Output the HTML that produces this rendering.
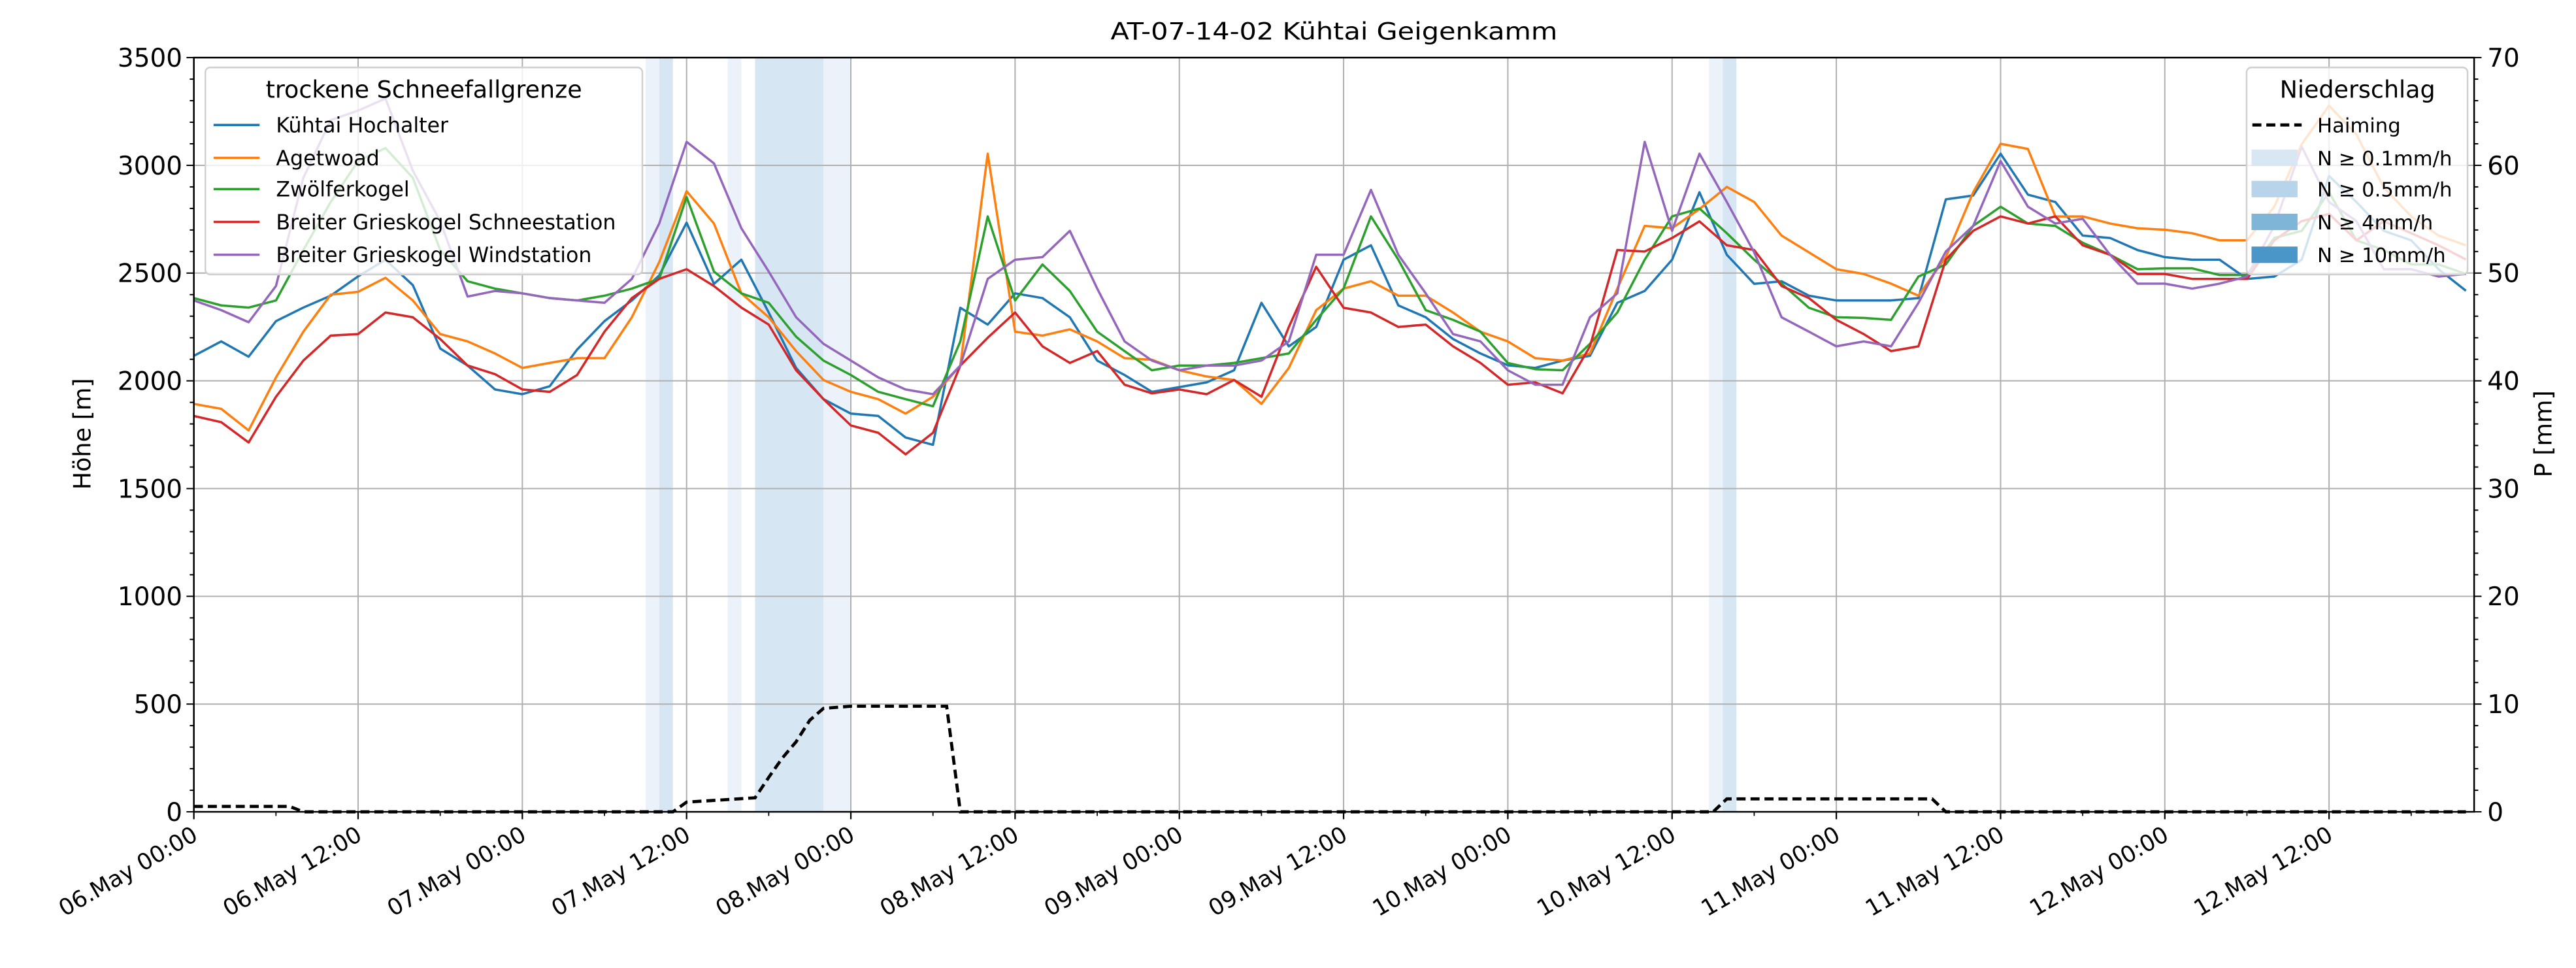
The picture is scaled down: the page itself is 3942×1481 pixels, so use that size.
<!DOCTYPE html>
<html><head><meta charset="utf-8"><style>
html,body{margin:0;padding:0;background:#fff}
svg{display:block}
text{font-family:"DejaVu Sans","Liberation Sans",sans-serif;fill:#000}
</style></head><body>
<svg id="chart" xmlns="http://www.w3.org/2000/svg" width="3942" height="1481" viewBox="0 0 1568 589">
<rect x="0" y="0" width="1568" height="589" fill="#fff"/>
<g id="bands"></g><g id="grid"></g><g id="series"></g><g id="precip"></g><g id="axes"></g><g id="legends"></g>
</svg>
<script>
// ---- data ----
const hours = [];
for (let h = 0; h <= 166; h += 2) hours.push(h);
const kuehtaiHochalter = [2116,2183,2112,2277,2340,2395,2485,2562,2444,2150,2071,1960,1938,1975,2145,2277,2373,2489,2734,2450,2562,2317,2060,1915,
1848,1837,1737,1703,2339,2261,2406,2384,2295,2094,2027,1949,1971,1993,2049,2362,2160,2250,2562,2629,2350,2295,2194,2127,
2072,2060,2094,2116,2362,2417,2562,2875,2585,2450,2462,2395,2373,2373,2373,2384,2842,2860,3054,2864,2830,2674,2663,2607,
2574,2562,2562,2473,2484,2562,2950,2830,2696,2652,2518,2418];
const agetwoad = [1893,1870,1770,2016,2228,2400,2413,2478,2373,2217,2183,2127,2060,2083,2105,2105,2295,2551,2880,2730,2406,2295,2138,2004,
1949,1915,1848,1926,2071,3054,2228,2210,2239,2183,2105,2098,2049,2020,2004,1893,2060,2328,2428,2462,2395,2395,2317,2228,
2183,2105,2094,2127,2428,2719,2708,2797,2900,2830,2674,2596,2518,2496,2451,2395,2574,2875,3100,3076,2763,2763,2730,2708,
2701,2685,2652,2652,2808,3098,3277,3143,2897,2763,2674,2629];
const zwoelferkogel = [2384,2350,2340,2373,2607,2830,3020,3080,2942,2607,2462,2428,2406,2384,2373,2395,2428,2473,2853,2507,2406,2362,2205,2094,
2027,1949,1915,1882,2183,2763,2373,2540,2417,2228,2138,2049,2071,2071,2083,2105,2127,2283,2428,2763,2562,2328,2283,2228,
2083,2054,2049,2172,2317,2562,2763,2800,2685,2562,2451,2339,2295,2292,2283,2484,2540,2719,2808,2730,2719,2641,2585,2518,
2522,2522,2491,2491,2663,2696,2875,2652,2607,2540,2540,2496];
const schneestation = [1837,1808,1714,1926,2094,2210,2217,2317,2295,2194,2071,2031,1960,1949,2027,2228,2384,2473,2518,2440,2340,2261,2049,1915,
1793,1759,1659,1759,2071,2200,2317,2160,2083,2138,1982,1942,1960,1938,2004,1926,2250,2529,2339,2317,2250,2261,2160,2083,
1982,1993,1942,2160,2607,2600,2663,2740,2629,2607,2440,2384,2283,2217,2138,2160,2562,2696,2763,2730,2763,2629,2585,2496,
2496,2473,2473,2473,2652,2741,2775,2652,2741,2685,2629,2563];
const windstation = [2373,2328,2272,2440,2942,3210,3254,3310,2975,2741,2391,2417,2406,2384,2373,2362,2473,2730,3109,3009,2708,2507,2295,2172,
2094,2016,1960,1938,2071,2473,2562,2574,2696,2428,2183,2094,2049,2071,2071,2094,2183,2585,2585,2886,2585,2406,2217,2183,
2049,1982,1982,2295,2406,3109,2696,3054,2830,2596,2295,2228,2160,2183,2160,2362,2600,2719,3020,2808,2730,2752,2585,2451,
2451,2428,2451,2484,2719,3087,2830,2741,2518,2518,2484,2496];
const seriesNames = ["Kühtai Hochalter","Agetwoad","Zwölferkogel","Breiter Grieskogel Schneestation","Breiter Grieskogel Windstation"];
const precipHours = [0,7,8,35,36,41,42,43,44,45,46,48,55,56,111,112,127,128,166];
const precipValues = [0.5,0.5,0,0,0.9,1.3,3.2,5,6.5,8.5,9.6,9.8,9.8,0,0,1.2,1.2,0,0];
const bandStart = [33,34,39,41,46,110.7,111.7];
const bandEnd = [34,35,40,46,48,111.7,112.7];
const bandLevel = [0,1,0,1,0,0,1];
const leftTicks = [0,500,1000,1500,2000,2500,3000,3500];
const rightTicks = [0,10,20,30,40,50,60,70];
const xTickLabels = ["06.May 00:00","06.May 12:00","07.May 00:00","07.May 12:00","08.May 00:00","08.May 12:00","09.May 00:00","09.May 12:00","10.May 00:00","10.May 12:00","11.May 00:00","11.May 12:00","12.May 00:00","12.May 12:00"];
const precipLegend = ["N ≥ 0.1mm/h","N ≥ 0.5mm/h","N ≥ 4mm/h","N ≥ 10mm/h"];

// ---- layout ----
const L=118,R=1506,T=35,B=494, XMAX=166.6;
const colors=["#1f77b4","#ff7f0e","#2ca02c","#d62728","#9467bd"];
const bandColors=["#ecf2f9","#d6e6f3"];
const xS=h=>L+(R-L)*h/XMAX;
const yS=v=>B-(B-T)*v/3500;
const yP=v=>B-(B-T)*v/70;
const NS="http://www.w3.org/2000/svg";
function mk(tag,attrs,parent,txt){const e=document.createElementNS(NS,tag);for(const k in attrs)e.setAttribute(k,attrs[k]);if(txt!==undefined)e.textContent=txt;parent.appendChild(e);return e;}
const gB=document.getElementById('bands'),gG=document.getElementById('grid'),gS=document.getElementById('series'),gP=document.getElementById('precip'),gA=document.getElementById('axes'),gL=document.getElementById('legends');

bandStart.forEach((s,i)=>{
  const r=mk('rect',{x:xS(s),y:T,width:xS(bandEnd[i])-xS(s),height:B-T,fill:bandColors[bandLevel[i]]},gB);
  
  
});
xTickLabels.forEach((lab,i)=>{
  const x=xS(i*12);
  const g=mk('line',{x1:x,x2:x,y1:T,y2:B,stroke:'#b0b0b0','stroke-width':0.8},gG);
  
  
});
leftTicks.forEach(v=>{
  const g=mk('line',{x1:L,x2:R,y1:yS(v),y2:yS(v),stroke:'#b0b0b0','stroke-width':0.8},gG);
  
  
});
[kuehtaiHochalter,agetwoad,zwoelferkogel,schneestation,windstation].forEach((arr,si)=>{
  const pts=arr.map((v,i)=>xS(hours[i]).toFixed(2)+','+yS(v).toFixed(2)).join(' ');
  const p=mk('polyline',{points:pts,fill:'none',stroke:colors[si],'stroke-width':1.4,'stroke-linejoin':'round'},gS);
  
  
});
{
  const pts=precipValues.map((v,i)=>xS(precipHours[i]).toFixed(2)+','+yP(v).toFixed(2)).join(' ');
  const p=mk('polyline',{points:pts,fill:'none',stroke:'#000','stroke-width':1.9,'stroke-dasharray':'5.5,3'},gP);
  
  
}
const fr=mk('rect',{x:L,y:T,width:R-L,height:B-T,fill:'none',stroke:'#000','stroke-width':1},gA);


xTickLabels.forEach((lab,i)=>{
  const x=xS(i*12);
  mk('line',{x1:x,x2:x,y1:B,y2:B+4.5,stroke:'#000','stroke-width':0.9},gA);
  const t=mk('text',{x:x,y:B+17.5,'font-size':13.8,'text-anchor':'end',transform:`rotate(-30 ${x} ${B+11})`},gA,lab);
  
  
});
for(let h=6;h<XMAX;h+=12){const x=xS(h);mk('line',{x1:x,x2:x,y1:B,y2:B+2.5,stroke:'#000','stroke-width':0.7},gA);}
for(let v=0;v<=3500;v+=100){const y=yS(v);mk('line',{x1:L-(v%500===0?4.5:2.5),x2:L,y1:y,y2:y,stroke:'#000','stroke-width':0.8},gA);}
leftTicks.forEach(v=>{
  const t=mk('text',{x:L-7,y:yS(v)+5.5,'font-size':15.5,'text-anchor':'end'},gA,String(v));
  
  
});
for(let v=0;v<=70;v+=2){const y=yP(v);mk('line',{x1:R,x2:R+(v%10===0?4.5:2.5),y1:y,y2:y,stroke:'#000','stroke-width':0.8},gA);}
rightTicks.forEach(v=>{
  const t=mk('text',{x:R+8,y:yP(v)+5.5,'font-size':15.5,'text-anchor':'start'},gA,String(v));
  
  
});
const yl=mk('text',{x:55,y:264,'font-size':14.5,'text-anchor':'middle',transform:'rotate(-90 55 264)'},gA,'Höhe [m]');


const yr=mk('text',{x:1553,y:264,'font-size':14.5,'text-anchor':'middle',transform:'rotate(-90 1553 264)'},gA,'P [mm]');


const ti=mk('text',{x:812,y:24,'font-size':14.5,'text-anchor':'middle',textLength:272,lengthAdjust:'spacingAndGlyphs'},gA,'AT-07-14-02 Kühtai Geigenkamm');



{
  const box=mk('rect',{x:125,y:41,width:266,height:126,rx:3,fill:'rgba(255,255,255,0.8)',stroke:'#d0d0d0','stroke-width':1},gL);
  
  
  const tt=mk('text',{x:258,y:59.5,'font-size':14.5,'text-anchor':'middle'},gL,'trockene Schneefallgrenze');
  
  
  const rows=[76,96,115,135,155];
  seriesNames.forEach((n,i)=>{
    mk('line',{x1:130,x2:158,y1:rows[i],y2:rows[i],stroke:colors[i],'stroke-width':1.4},gL);
    const t=mk('text',{x:168,y:rows[i]+4.5,'font-size':12.6},gL,n);
    
    
  });
}
{
  const box=mk('rect',{x:1367.5,y:41,width:134.5,height:126,rx:3,fill:'rgba(255,255,255,0.8)',stroke:'#d0d0d0','stroke-width':1},gL);
  
  
  const tt=mk('text',{x:1435,y:59.5,'font-size':14.5,'text-anchor':'middle'},gL,'Niederschlag');
  
  
  const rows=[76,96,115,135,155];
  mk('line',{x1:1371,x2:1401,y1:rows[0],y2:rows[0],stroke:'#000','stroke-width':1.9,'stroke-dasharray':'5.5,3'},gL);
  const t0=mk('text',{x:1410.5,y:rows[0]+4.5,'font-size':12.2},gL,'Haiming');
  
  
  const sw=["#d9e7f4","#b7d4ea","#7fb6d8","#4a96c8"];
  precipLegend.forEach((n,i)=>{
    mk('rect',{x:1370.5,y:rows[i+1]-5,width:28,height:10,fill:sw[i]},gL);
    const t=mk('text',{x:1410.5,y:rows[i+1]+4.5,'font-size':12.2},gL,n);
    
    
  });
}
</script>
</body></html>
